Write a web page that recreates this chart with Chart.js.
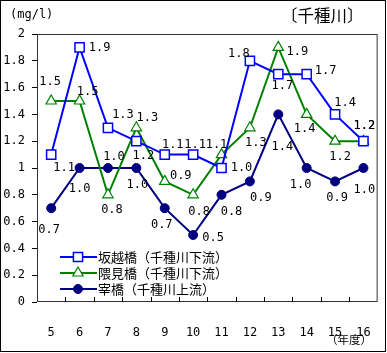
<!DOCTYPE html>
<html>
<head>
<meta charset="utf-8">
<script src="https://cdn.jsdelivr.net/npm/chart.js@4"></script>
<style>
  body { margin: 0; background: #fff; }
  #wrap { width: 387px; height: 353px; }
</style>
</head>
<body>
<div id="wrap"><canvas id="riverChart" width="387" height="353"></canvas></div>
<script>
// 年度
const years = ['5', '6', '7', '8', '9', '10', '11', '12', '13', '14', '15', '16'];
const seriesNames = ['坂越橋（千種川下流）', '隈見橋（千種川下流）', '宰橋（千種川上流）'];
const sakoshi = [1.1, 1.9, 1.3, 1.2, 1.1, 1.1, 1.0, 1.8, 1.7, 1.7, 1.4, 1.2];
const kumami = [1.5, 1.5, 0.8, 1.3, 0.9, 0.8, 1.1, 1.3, 1.9, 1.4, 1.2, 1.2];
const saibashi = [0.7, 1.0, 1.0, 1.0, 0.7, 0.5, 0.8, 0.9, 1.4, 1.0, 0.9, 1.0];
const yTicks = [0, 0.2, 0.4, 0.6, 0.8, 1, 1.2, 1.4, 1.6, 1.8, 2];

// label offsets from each point (px)
const labelOffsets = [
  [[13, 13], [20, 0], [15, -13], [7, 15], [8, -10], [2, -10], [20, 0], [-11, -7], [4, 12], [19, -3], [10, -12], [1, -15]],
  [[-1, -19], [8, -9], [4, 15], [11, -10], [16, -6], [6, 17], [-5, -10], [6, 15], [19, 4], [-2, 14], [5, 16], [1, -15]],
  [[-2, 22], [0, 21], [6, -11], [1, 17], [-3, 17], [20, 3], [10, 17], [11, 16], [4, 32], [-6, 17], [2, 16], [1, 22]]
];

const mono = "'DejaVu Sans Mono', monospace";
const jp = "'Noto Sans CJK JP', sans-serif";

const frame = {
  id: 'frame',
  beforeDraw(chart) {
    const c = chart.ctx;
    c.save();
    c.fillStyle = '#fff';
    c.fillRect(0, 0, chart.width, chart.height);
    c.strokeStyle = '#000';
    c.lineWidth = 1;
    c.strokeRect(0.5, 0.5, chart.width - 2, chart.height - 2);
    c.restore();
  },
  afterDraw(chart) {
    const c = chart.ctx;
    const a = chart.chartArea;
    const x = chart.scales.x;
    c.save();
    c.strokeStyle = '#333';
    c.lineWidth = 1;
    c.strokeRect(a.left + 0.5, a.top + 0.5, a.right - a.left - 1, a.bottom - a.top - 1);
    // inner ticks between years
    c.strokeStyle = '#000';
    c.beginPath();
    for (let i = 1; i < years.length; i++) {
      const px = Math.round((x.getPixelForValue(i - 1) + x.getPixelForValue(i)) / 2) + 0.5;
      c.moveTo(px, a.bottom);
      c.lineTo(px, a.bottom - 5);
    }
    c.stroke();

    c.fillStyle = '#000';
    c.font = '12px ' + mono;
    c.textBaseline = 'middle';
    c.textAlign = 'left';
    c.fillText('(mg/l)', 10, 15);
    c.font = '16.5px ' + jp;
    c.fillText('〔千種川〕', 281, 16);
    c.font = '11.5px ' + jp;
    c.fillText('（年度）', 326, 340);

    // legend
    const rows = [257, 273, 289];
    chart.data.datasets.forEach((ds, i) => {
      const y = rows[i];
      c.strokeStyle = ds.borderColor;
      c.lineWidth = 2;
      c.beginPath();
      c.moveTo(60, y);
      c.lineTo(97, y);
      c.stroke();
      c.fillStyle = ds.pointBackgroundColor;
      c.lineWidth = ds.pointBorderWidth;
      Chart.helpers.drawPoint(c, { pointStyle: ds.pointStyle, radius: ds.pointRadius, borderWidth: ds.pointBorderWidth }, 78, y);
      c.fillStyle = '#000';
      c.font = '13px ' + jp;
      c.fillText(ds.label, 98, y);
    });
    c.restore();
  },
  afterDatasetsDraw(chart) {
    const c = chart.ctx;
    c.save();
    c.fillStyle = '#000';
    c.font = '12px ' + mono;
    c.textAlign = 'center';
    c.textBaseline = 'middle';
    chart.data.datasets.forEach((ds, i) => {
      chart.getDatasetMeta(i).data.forEach((pt, j) => {
        const off = labelOffsets[i][j];
        c.fillText(ds.data[j].toFixed(1), pt.x + off[0], pt.y + off[1]);
      });
    });
    c.restore();
  }
};

new Chart(document.getElementById('riverChart'), {
  type: 'line',
  data: {
    labels: years,
    datasets: [
      {
        label: seriesNames[0], data: sakoshi,
        borderColor: '#0000ff', borderWidth: 2,
        pointStyle: 'rect', pointRadius: 6.5, pointBorderWidth: 1.5,
        pointBorderColor: '#0000ff', pointBackgroundColor: '#fff'
      },
      {
        label: seriesNames[1], data: kumami,
        borderColor: '#008000', borderWidth: 2,
        pointStyle: 'triangle', pointRadius: 6, pointBorderWidth: 1.2,
        pointBorderColor: '#008000', pointBackgroundColor: '#fff'
      },
      {
        label: seriesNames[2], data: saibashi,
        borderColor: '#000080', borderWidth: 2,
        pointStyle: 'circle', pointRadius: 4.5, pointBorderWidth: 1,
        pointBorderColor: '#000080', pointBackgroundColor: '#000080'
      }
    ]
  },
  options: {
    responsive: false,
    animation: false,
    layout: { padding: { top: 34, right: 7, left: 0, bottom: 0 } },
    plugins: {
      legend: { display: false },
      tooltip: { enabled: false }
    },
    scales: {
      x: {
        offset: true,
        grid: { display: false },
        border: { display: false },
        ticks: { color: '#000', font: { family: mono, size: 12 }, padding: 16, maxRotation: 0 },
        afterFit(s) { s.height = 51; }
      },
      y: {
        min: 0, max: 2,
        afterBuildTicks(s) { s.ticks = yTicks.map(v => ({ value: v })); },
        grid: { drawOnChartArea: false, tickLength: 5, color: '#000' },
        border: { display: false },
        ticks: {
          color: '#000', font: { family: mono, size: 12 }, padding: 7,
          callback: v => (Number.isInteger(v) ? String(v) : v.toFixed(1))
        },
        afterFit(s) { s.width = 37; }
      }
    }
  },
  plugins: [frame]
});
</script>
</body>
</html>
